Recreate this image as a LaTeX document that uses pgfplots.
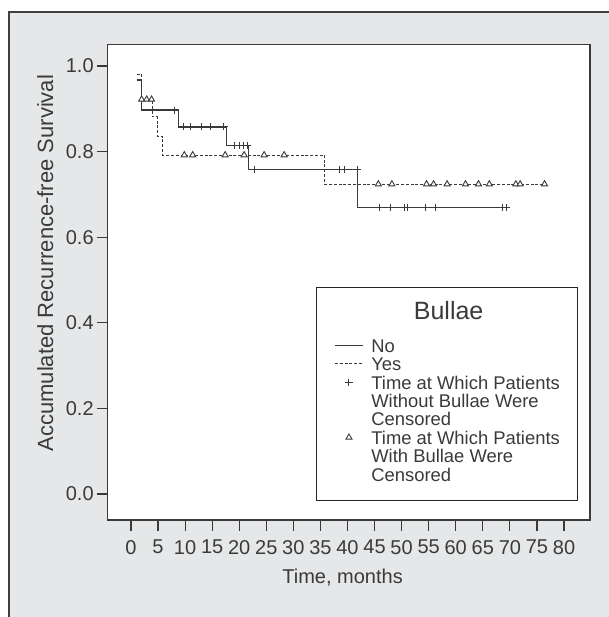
\documentclass[border=0pt]{standalone}
\usepackage{fontspec}
\setmainfont{Liberation Sans}
\usepackage{pgfplots}
\pgfplotsset{compat=1.18}
\definecolor{framegray}{HTML}{E6E7E8}
\definecolor{ink}{HTML}{3A3A3A}

\begin{document}
\begin{tikzpicture}
% page: 609 x 617 px at 0.5pt per px, origin at the axis' lower left corner
\useasboundingbox (-53.85pt,-48.5pt) rectangle (250.65pt,260pt);
\fill[framegray] (-49.5pt,-48.5pt) rectangle (250.65pt,254.2pt);
\draw[line width=1pt, black!75] (-49.5pt,-48.5pt) -- (-49.5pt,254.2pt) -- (250.65pt,254.2pt);
\begin{axis}[
    scale only axis,
    width=241.15pt,
    height=237.85pt,
    xmin=-4.3, xmax=84.8,
    ymin=-0.0608, ymax=1.0508,
    xtick={0,5,...,80},
    ytick={0,0.2,0.4,0.6,0.8,1},
    tick align=outside,
    xtick pos=left,
    ytick pos=left,
    major tick length=5.5pt,
    axis line style={ink, line width=0.7pt},
    tick style={ink, line width=0.6pt},
    axis background/.style={fill=white},
    /pgf/number format/assume math mode=true,
    tick label style={font=\fontsize{10}{12}\selectfont, text=ink},
    yticklabel style={/pgf/number format/fixed, /pgf/number format/fixed zerofill,
        /pgf/number format/precision=1, xshift=2pt},
    xticklabel style={yshift=-1pt},
    xlabel={Time, months},
    ylabel={Accumulated Recurrence-free Survival},
    xlabel style={font=\fontsize{10}{12}\selectfont, text=ink,
        at={(axis description cs:0.487,-0.1345)}, anchor=base},
    ylabel style={font=\fontsize{11}{13}\selectfont, text=ink,
        at={(axis description cs:-0.1134,0.540)}, anchor=base},
    legend cell align=left,
    legend style={at={(0.4313,0.040)}, anchor=south west,
        draw=black!85, line width=0.55pt, fill=white,
        inner xsep=9pt, inner ysep=7.5pt, row sep=0pt, column sep=3.85pt,
        font=\fontsize{9.2}{9.2}\selectfont, text=ink,
        nodes={inner sep=0pt, text height=7pt, text depth=2.2pt}},
    legend image code/.code={\draw[mark repeat=2,mark phase=2,#1]
        plot coordinates {(0pt,1pt) (7pt,1pt) (14pt,1pt)};},
]
\addlegendimage{empty legend}
\addlegendentry[text height=8.4pt, text depth=9.6pt]{\hspace*{38.65pt}\makebox[0pt][c]{\fontsize{12.5}{12.5}\selectfont Bullae}}

% No bullae
\addplot[const plot, ink, line width=0.7pt] coordinates {
    (1.05,0.967) (1.97,0.897) (8.75,0.858) (17.68,0.815)
    (21.74,0.758) (41.8,0.669) (69.7,0.669)};
\addlegendentry{No}

% Bullae
\addplot[const plot, ink, line width=0.5pt, dash pattern=on 1.5pt off 0.9pt] coordinates {
    (1.05,0.981) (1.97,0.922) (4.0,0.881) (4.87,0.835)
    (5.86,0.792) (35.8,0.724) (76.8,0.724)};
\addlegendentry{Yes}

% censored, no bullae
\addplot[only marks, mark=+, mark size=1.8pt, ink, line width=0.5pt] coordinates {
    (8.13,0.897) (9.67,0.858) (11.03,0.858) (13.06,0.858) (14.6,0.858)
    (17.18,0.858) (19.2,0.815) (20.0,0.815) (20.75,0.815) (21.5,0.815)
    (22.9,0.758) (38.6,0.758) (39.5,0.758) (41.8,0.758) (45.9,0.669)
    (48.0,0.669) (50.6,0.669) (51.0,0.669) (54.4,0.669) (56.3,0.669)
    (68.6,0.669) (69.4,0.669)};
\addlegendentry{Time at Which Patients}
\addlegendimage{empty legend}
\addlegendentry{Without Bullae Were}
\addlegendimage{empty legend}
\addlegendentry{Censored}

% censored, bullae
\addplot[only marks, mark=triangle*, mark size=1.75pt, mark options={fill=white},
    ink, line width=0.45pt] coordinates {
    (1.97,0.922) (2.9,0.922) (3.8,0.922) (9.85,0.792) (11.4,0.792)
    (17.4,0.792) (20.9,0.792) (24.6,0.792) (28.3,0.792) (45.7,0.724)
    (48.2,0.724) (54.6,0.724) (55.9,0.724) (58.4,0.724) (61.8,0.724)
    (64.2,0.724) (66.2,0.724) (71.1,0.724) (71.9,0.724) (76.4,0.724)};
\addlegendentry{Time at Which Patients}
\addlegendimage{empty legend}
\addlegendentry{With Bullae Were}
\addlegendimage{empty legend}
\addlegendentry{Censored}
\end{axis}
\end{tikzpicture}
\end{document}
